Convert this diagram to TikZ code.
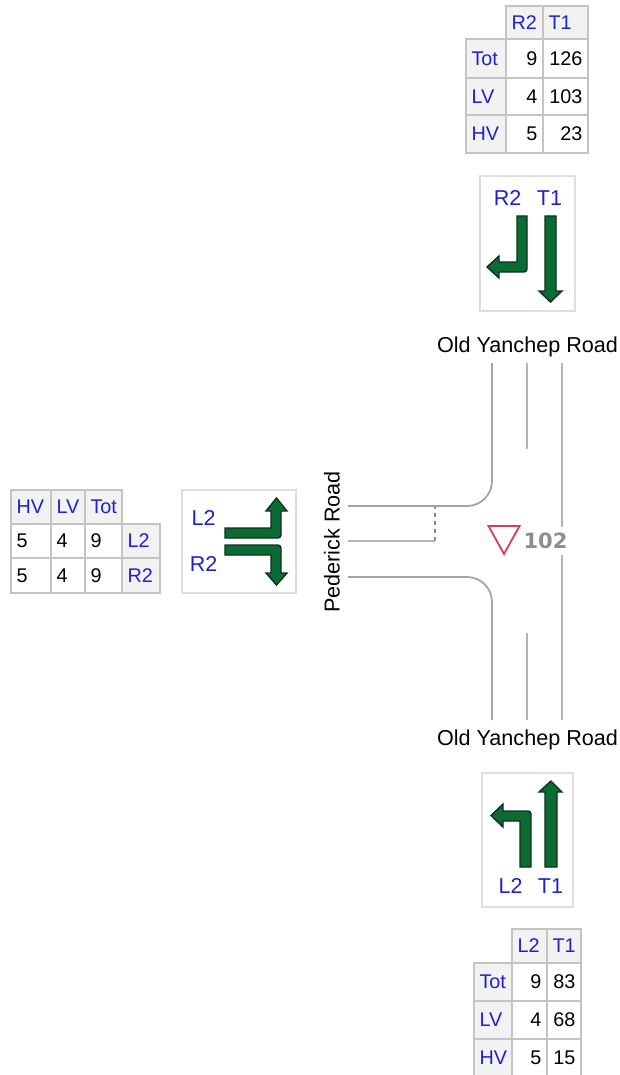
\documentclass[tikz,border=0pt]{standalone}
\usepackage{fontspec}
\setmainfont{Liberation Sans}
\newfontfamily\numfont{DejaVu Sans}
\definecolor{lbl}{HTML}{2020CC}
\definecolor{grid}{HTML}{C4C4C4}
\definecolor{hdr}{HTML}{F2F2F2}
\definecolor{boxedge}{HTML}{DEDEDE}
\definecolor{arrowgreen}{HTML}{0A6B35}
\definecolor{arrowedge}{HTML}{10301C}
\definecolor{road}{HTML}{B4B4B4}
\definecolor{curb}{HTML}{A4A4A4}
\definecolor{stopline}{HTML}{8C8C8C}
\definecolor{sign}{HTML}{D0405A}
\definecolor{signtext}{HTML}{8E8E8E}
\tikzset{
  x=1pt,y=-1pt,
  cellbase/.style={draw=grid,line width=1.7pt,anchor=north west,outer sep=0pt,inner xsep=5.5pt,inner ysep=0pt,text height=13.5pt,text depth=0pt,font=\fontsize{19.8}{20}\selectfont},
  headcell/.style={cellbase,fill=hdr,text=lbl},
  numcell/.style={cellbase,fill=white,text=black},
  boxframe/.style={draw=boxedge,line width=1.4pt,fill=white},
  lanelabel/.style={text=lbl,inner sep=0pt,font=\fontsize{21.5}{22}\selectfont},
  roadname/.style={text=black,inner sep=0pt,font=\fontsize{21.6}{22}\selectfont},
  turnarrow/.style={fill=arrowgreen,draw=arrowedge,line width=1.4pt,line join=miter},
  roadline/.style={draw=road,line width=2.2pt},
  curbline/.style={draw=curb,line width=1.8pt},
}
% name, x0, y0, x1, y1, style, alignment, text
\newcommand{\tcell}[8]{%
  \pgfmathsetmacro{\cw}{#4-#2}\pgfmathsetmacro{\ch}{#5-#3}\pgfmathsetmacro{\tw}{#4-#2-11}%
  \node[#6,minimum width=\cw pt,minimum height=\ch pt,text width=\tw pt,align=#7] (#1) at (#2,#3) {#8};}
\begin{document}
\begin{tikzpicture}
\useasboundingbox (0,0) rectangle (619,1075);
\fill[white] (0,0) rectangle (619,1075);
% top table
\tcell{ta}{506}{6}{543}{39}{headcell}{left}{R2}
\tcell{tb}{543}{6}{588}{39}{headcell}{left}{T1}
\tcell{tc}{466}{39}{506}{78}{headcell}{left}{Tot}
\tcell{td}{506}{39}{543}{78}{numcell}{right}{9}
\tcell{te}{543}{39}{588}{78}{numcell}{right}{126}
\tcell{tf}{466}{78}{506}{115}{headcell}{left}{LV}
\tcell{tg}{506}{78}{543}{115}{numcell}{right}{4}
\tcell{th}{543}{78}{588}{115}{numcell}{right}{103}
\tcell{ti}{466}{115}{506}{153}{headcell}{left}{HV}
\tcell{tj}{506}{115}{543}{153}{numcell}{right}{5}
\tcell{tk}{543}{115}{588}{153}{numcell}{right}{23}
% left table
\tcell{la}{11}{490}{51}{524}{headcell}{left}{HV}
\tcell{lb}{51}{490}{85}{524}{headcell}{left}{LV}
\tcell{lc}{85}{490}{122}{524}{headcell}{left}{Tot}
\tcell{ld}{11}{524}{51}{558}{numcell}{left}{5}
\tcell{le}{51}{524}{85}{558}{numcell}{left}{4}
\tcell{lf}{85}{524}{122}{558}{numcell}{left}{9}
\tcell{lg}{122}{524}{160}{558}{headcell}{left}{L2}
\tcell{lh}{11}{558}{51}{593}{numcell}{left}{5}
\tcell{li}{51}{558}{85}{593}{numcell}{left}{4}
\tcell{lj}{85}{558}{122}{593}{numcell}{left}{9}
\tcell{lk}{122}{558}{160}{593}{headcell}{left}{R2}
% bottom table
\tcell{ba}{512}{929}{547}{963}{headcell}{left}{L2}
\tcell{bb}{547}{929}{581}{963}{headcell}{left}{T1}
\tcell{bc}{474}{963}{512}{1001}{headcell}{left}{Tot}
\tcell{bd}{512}{963}{547}{1001}{numcell}{right}{9}
\tcell{be}{547}{963}{581}{1001}{numcell}{right}{83}
\tcell{bf}{474}{1001}{512}{1039}{headcell}{left}{LV}
\tcell{bg}{512}{1001}{547}{1039}{numcell}{right}{4}
\tcell{bh}{547}{1001}{581}{1039}{numcell}{right}{68}
\tcell{bi}{474}{1039}{512}{1077}{headcell}{left}{HV}
\tcell{bj}{512}{1039}{547}{1077}{numcell}{right}{5}
\tcell{bk}{547}{1039}{581}{1077}{numcell}{right}{15}
% arrow boxes
\draw[boxframe] (480,176) rectangle (575,311);
\draw[boxframe] (182,490) rectangle (296,593);
\draw[boxframe] (482,773) rectangle (573,907);
% top arrows
\draw[turnarrow] (517,216) -- (527,216) [rounded corners=3] -- (527,272) [sharp corners] -- (499,272) -- (499,278) -- (487,267) -- (499,256) -- (499,262) -- (517,262) -- cycle;
\draw[turnarrow] (545,216) -- (556,216) -- (556,291) -- (562,291) -- (550.5,302) -- (539,291) -- (545,291) -- cycle;
\node[lanelabel] (toplabelR) at (507.5,198) {R2};
\node[lanelabel] (toplabelT) at (549.5,198) {T1};
% left arrows
\draw[turnarrow] (225,528) -- (271,528) -- (271,511) -- (266,511) -- (276.5,498) -- (287,511) -- (281,511) [rounded corners=3] -- (281,538) [sharp corners] -- (225,538) -- cycle;
\draw[turnarrow] (225,545) [rounded corners=3] -- (281,545) [sharp corners] -- (281,573) -- (287,573) -- (276.5,585) -- (266,573) -- (271,573) -- (271,555) -- (225,555) -- cycle;
\node[lanelabel] (leftlabelL) at (203.5,518) {L2};
\node[lanelabel] (leftlabelR) at (203.5,564) {R2};
% bottom arrows
\draw[turnarrow] (520,867) -- (531,867) [rounded corners=3] -- (531,811) [sharp corners] -- (503,811) -- (503,804) -- (491,815.5) -- (503,827) -- (503,821) -- (520,821) -- cycle;
\draw[turnarrow] (545,867) -- (557,867) -- (557,792) -- (562,792) -- (551,781) -- (539,792) -- (545,792) -- cycle;
\node[lanelabel] (botlabelL) at (510.5,886) {L2};
\node[lanelabel] (botlabelT) at (550.5,886) {T1};
% roads
\draw[curbline] (492,363) -- (492,481) arc[start angle=0,end angle=90,radius=25] -- (348,506);
\draw[curbline] (348,577) -- (467,577) arc[start angle=-90,end angle=0,radius=25] -- (492,720);
\draw[roadline] (527,363) -- (527,449);
\draw[roadline] (527,633) -- (527,720);
\draw[roadline] (562,363) -- (562,527);
\draw[roadline] (562,555) -- (562,720);
\draw[roadline] (348,541) -- (435,541);
\draw[draw=stopline,line width=2.6pt,dash pattern=on 4pt off 4pt] (435,541) -- (435,507);
% give-way sign
\draw[draw=sign,line width=1.8pt,line join=miter] (488.5,526) -- (519.5,526) -- (504,554) -- cycle;
\node[text=signtext,inner sep=0pt,font=\numfont\bfseries\fontsize{21}{22}\selectfont] (sitenum) at (545.5,541) {102};
% road names
\node[roadname] (roadtop) at (527.5,346.5) {Old Yanchep Road};
\node[roadname] (roadbot) at (527.5,739.5) {Old Yanchep Road};
\node[roadname,rotate=90] (roadleft) at (332,542) {Pederick Road};
\end{tikzpicture}
\end{document}
